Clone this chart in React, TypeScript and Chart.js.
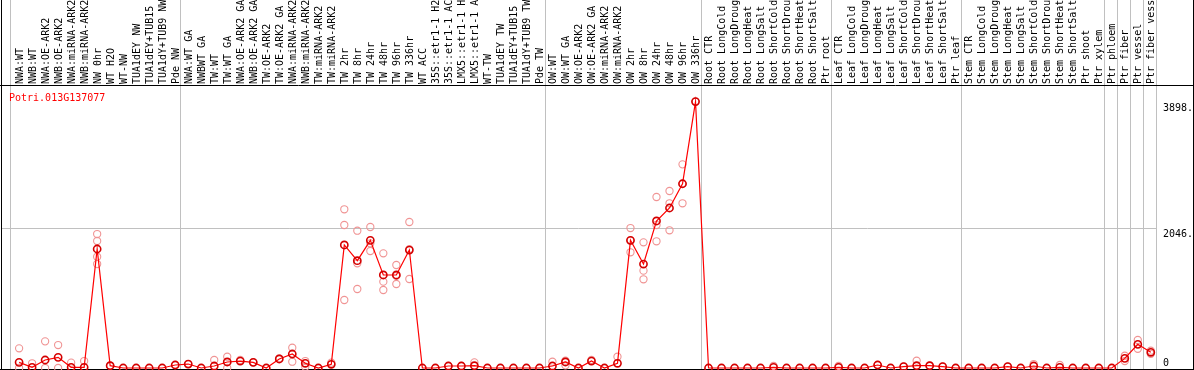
import React, { useEffect, useRef } from "react";
import { Chart, registerables } from "chart.js";

Chart.register(...registerables);

const geneName = "Potri.013G137077";

const categories: string[] = [
  "NWA:WT", "NWB:WT", "NWA:OE-ARK2", "NWB:OE-ARK2", "NWA:miRNA-ARK2", "NWB:miRNA-ARK2",
  "NW 0hr", "WT H2O", "WT-NW", "TUA1dEY NW", "TUA1dEY+TUB15", "TUA1dY+TUB9 NW", "Pde NW",
  "NWA:WT GA", "NWBWT GA", "TW:WT", "TW:WT GA", "NWA:OE-ARK2 GA", "NWB:OE-ARK2 GA",
  "TW:OE-ARK2", "TW:OE-ARK2 GA", "NWA:miRNA-ARK2", "NWB:miRNA-ARK2", "TW:miRNA-ARK2", "TW:miRNA-ARK2",
  "TW 2hr", "TW 8hr", "TW 24hr", "TW 48hr", "TW 96hr", "TW 336hr", "WT ACC",
  "35S::etr1-1 H2", "35S::etr1-1 AC", "LMX5::etr1-1 H", "LMX5::etr1-1 A", "WT-TW",
  "TUA1dEY TW", "TUA1dEY+TUB15", "TUA1dY+TUB9 TW", "Pde TW",
  "OW:WT", "OW:WT GA", "OW:OE-ARK2", "OW:OE-ARK2 GA", "OW:miRNA-ARK2", "OW:miRNA-ARK2",
  "OW 2hr", "OW 8hr", "OW 24hr", "OW 48hr", "OW 96hr", "OW 336hr",
  "Root CTR", "Root LongCold", "Root LongDroug", "Root LongHeat", "Root LongSalt",
  "Root ShortCold", "Root ShortDrou", "Root ShortHeat", "Root ShortSalt", "Ptr root",
  "Leaf CTR", "Leaf LongCold", "Leaf LongDroug", "Leaf LongHeat", "Leaf LongSalt",
  "Leaf ShortCold", "Leaf ShortDrou", "Leaf ShortHeat", "Leaf ShortSalt", "Ptr leaf",
  "Stem CTR", "Stem LongCold", "Stem LongDroug", "Stem LongHeat", "Stem LongSalt",
  "Stem ShortCold", "Stem ShortDrou", "Stem ShortHeat", "Stem ShortSalt", "Ptr shoot", "Ptr xylem",
  "Ptr phloem", "Ptr fiber", "Ptr vessel", "Ptr fiber vess",
];

// number of categories in each group (group separators drawn between them)
const groupSizes: number[] = [13, 28, 12, 10, 10, 11, 1, 1, 1, 1];

const meanValues: number[] = [
  83, 10, 117, 156, 10, 10, 1741, 34, 0, 0, 0, 0, 44,
  58, 0, 29, 88, 102, 83, 0, 132, 205, 69, 0, 54, 1800, 1570, 1868, 1361, 1361, 1726, 0, 0, 29, 29, 34, 0, 0, 0, 0, 0,
  29, 88, 0, 102, 0, 69, 1868, 1521, 2151, 2341, 2696, 3898,
  0, 0, 0, 0, 0, 10, 0, 0, 0, 0,
  10, 0, 0, 44, 0, 20, 34, 34, 20, 0,
  0, 0, 0, 20, 0, 29, 0, 10, 0, 0, 0,
  0, 141, 346, 230,
];

const replicateValues: number[][] = [
  [288, 0], [69], [390, 0], [336, 0], [78], [102], [1960, 1858, 1628, 1521], [34], [], [], [], [], [44],
  [58], [], [117], [165, 0], [117], [83], [], [141], [297, 92], [102, 19], [], [78],
  [2322, 2092, 995], [2009, 1532, 1156], [2063, 1824, 1712], [1678, 1263, 1141], [1507, 1229, 1347],
  [2136, 1302, 1740], [], [], [29], [29], [83], [], [], [], [], [],
  [92], [107, 39], [], [117], [], [165], [2048, 1693, 1863], [1839, 1424, 1298], [2502, 2092, 1854],
  [2590, 2410, 2015], [2980, 2410, 2698], [3898],
  [], [], [], [], [], [29], [], [], [], [],
  [29], [], [], [44], [], [20], [107], [34], [20], [],
  [], [], [], [20], [], [58], [], [44], [], [], [],
  [], [102, 180], [410, 282], [253, 207],
];

const yTickValues: number[] = [0, 2046, 3898];
const yTickLabels: string[] = ["0", "2046.", "3898."];
const yGridValues: number[] = [2046];

const FONT = '10px "DejaVu Sans Mono", "Liberation Mono", monospace';

const decor = {
  id: "decor",
  beforeDatasetsDraw(chart: any) {
    const ctx: CanvasRenderingContext2D = chart.ctx;
    const xs = chart.scales.x;
    const ys = chart.scales.y;
    const area = chart.chartArea;
    const W = chart.width;
    const H = chart.height;
    ctx.save();

    const seg = (x1: number, y1: number, x2: number, y2: number) => {
      ctx.beginPath();
      ctx.moveTo(x1, y1);
      ctx.lineTo(x2, y2);
      ctx.stroke();
    };

    // group separators
    ctx.strokeStyle = "#c0c0c0";
    ctx.lineWidth = 1;
    const bounds: number[] = [xs.min];
    let cum = 0;
    groupSizes.forEach((g) => {
      cum += g;
      bounds.push(cum - 0.6);
    });
    bounds.forEach((b) => {
      const px = Math.round(xs.getPixelForValue(b)) + 0.5;
      seg(px, 0, px, H);
    });
    // horizontal grid
    yGridValues.forEach((v) => {
      const py = Math.round(ys.getPixelForValue(v)) + 0.5;
      seg(1, py, Math.round(area.right) + 0.5, py);
    });

    // frame
    ctx.strokeStyle = "#000";
    seg(0, area.top - 0.5, W, area.top - 0.5);
    seg(1.5, 0, 1.5, H);
    seg(W - 0.5, 0, W - 0.5, H);
    seg(0, area.bottom + 1.5, W, area.bottom + 1.5);

    // category labels (vertical)
    ctx.font = FONT;
    ctx.fillStyle = "#000";
    ctx.textAlign = "left";
    ctx.textBaseline = "alphabetic";
    categories.forEach((c, i) => {
      const px = xs.getPixelForValue(i);
      ctx.save();
      ctx.translate(px, area.top - 2);
      ctx.rotate(-Math.PI / 2);
      ctx.fillText(c, 0, 3.6);
      ctx.restore();
    });

    // gene title
    ctx.fillStyle = "#ff0000";
    ctx.fillText(geneName, 9, area.top + 15);

    // value labels on right
    ctx.fillStyle = "#000";
    yTickValues.forEach((v, i) => {
      const py = ys.getPixelForValue(v);
      const base = Math.min(py + 9, area.bottom - 2);
      ctx.fillText(yTickLabels[i], area.right + 7, base);
    });

    ctx.restore();
  },
};

export default function App() {
  const ref = useRef<HTMLCanvasElement>(null);

  useEffect(() => {
    const canvas = ref.current;
    if (!canvas) return;
    const replicatePoints = replicateValues.flatMap((arr, i) => arr.map((v) => ({ x: i, y: v })));
    const meanPoints = meanValues.map((v, i) => ({ x: i, y: v }));

    const chart = new Chart(canvas, {
      type: "line",
      data: {
        datasets: [
          {
            label: "mean",
            data: meanPoints,
            borderColor: "#ff0000",
            borderWidth: 1.2,
            pointRadius: 3.6,
            pointBorderWidth: 1.6,
            pointBorderColor: "#d40000",
            pointBackgroundColor: "rgba(0,0,0,0)",
            tension: 0,
            clip: false,
            order: 0,
          } as any,
          {
            label: "replicates",
            data: replicatePoints,
            showLine: false,
            pointRadius: 3.6,
            pointBorderWidth: 1.1,
            pointBorderColor: "#f09494",
            pointBackgroundColor: "rgba(0,0,0,0)",
            clip: false,
            order: 1,
          } as any,
        ],
      },
      options: {
        animation: false,
        responsive: false,
        devicePixelRatio: 1,
        layout: { autoPadding: false, padding: { left: 10, right: 38, top: 86, bottom: 2 } },
        plugins: { legend: { display: false }, tooltip: { enabled: false } },
        scales: {
          x: { type: "linear", min: -0.7, max: 87.4, display: false },
          y: { type: "linear", min: 0, max: 4126, display: false },
        },
      },
      plugins: [decor],
    } as any);

    return () => chart.destroy();
  }, []);

  return (
    <div style={{ position: "fixed", left: 0, top: 0, width: 1194, height: 370, background: "#fff" }}>
      <canvas ref={ref} width={1194} height={370} style={{ display: "block" }} />
    </div>
  );
}
